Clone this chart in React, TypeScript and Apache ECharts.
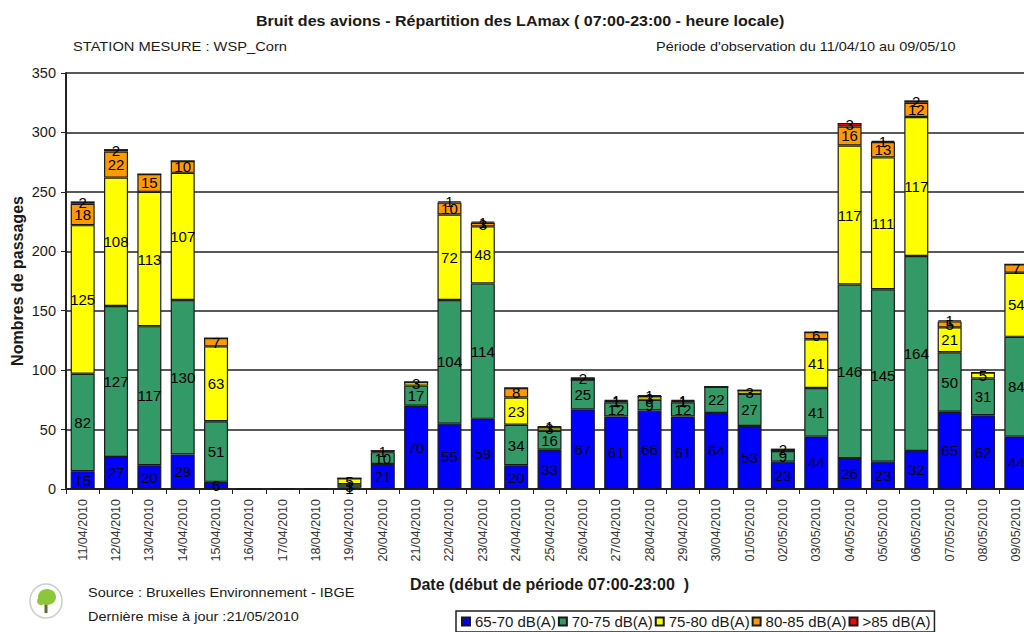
import React, { useEffect, useRef } from "react";
import * as echarts from "echarts";

const dates = ["11/04/2010","12/04/2010","13/04/2010","14/04/2010","15/04/2010","16/04/2010","17/04/2010","18/04/2010","19/04/2010","20/04/2010","21/04/2010","22/04/2010","23/04/2010","24/04/2010","25/04/2010","26/04/2010","27/04/2010","28/04/2010","29/04/2010","30/04/2010","01/05/2010","02/05/2010","03/05/2010","04/05/2010","05/05/2010","06/05/2010","07/05/2010","08/05/2010","09/05/2010"];
const band65 = [15,27,20,29,6,0,0,0,1,21,70,55,59,20,33,67,61,66,61,64,53,23,44,26,23,32,65,62,44];
const band70 = [82,127,117,130,51,0,0,0,3,10,17,104,114,34,16,25,12,9,12,22,27,9,41,146,145,164,50,31,84];
const band75 = [125,108,113,107,63,0,0,0,5,1,3,72,48,23,3,0,1,3,1,0,3,0,41,117,111,117,21,5,54];
const band80 = [18,22,15,10,7,0,0,0,0,0,0,10,3,8,0,0,0,0,0,0,0,0,6,16,13,12,5,0,7];
const band85 = [2,2,0,0,0,0,0,0,0,0,0,1,1,0,1,2,1,1,1,0,0,2,0,3,1,2,1,0,0];

const seriesDefs = [
  { name: "65-70 dB(A)", data: band65, color: "#0000ff" },
  { name: "70-75 dB(A)", data: band70, color: "#339966" },
  { name: "75-80 dB(A)", data: band75, color: "#ffff00" },
  { name: "80-85 dB(A)", data: band80, color: "#ff9900" },
  { name: ">85 dB(A)", data: band85, color: "#ff0000" },
];

const FONT = "'Liberation Sans', Arial, sans-serif";
const INK = "#1a1a1a";

export default function App() {
  const ref = useRef<HTMLDivElement>(null);
  useEffect(() => {
    document.body.style.margin = "0";
    document.body.style.overflow = "hidden";
    const chart = echarts.init(ref.current!, null, { renderer: "svg" });
    const txt = (text: string, x: number, y: number, fontSize: number, scaleX: number, fontWeight = "normal") => ({
      type: "text", x, y, scaleX, silent: true,
      style: { text, font: `${fontWeight} ${fontSize}px ${FONT}`, fill: INK },
    });
    chart.setOption({
      animation: false,
      backgroundColor: "#ffffff",
      textStyle: { fontFamily: FONT },
      grid: { left: 66, top: 73, width: 967, height: 416, containLabel: false, outerBoundsMode: "none" },
      xAxis: {
        type: "category",
        data: dates,
        name: "Date (début de période 07:00-23:00  )",
        nameLocation: "middle",
        nameGap: 87,
        nameTextStyle: { fontSize: 16, fontWeight: "bold", color: INK },
        axisLine: { lineStyle: { color: "#222", width: 2 } },
        axisTick: { show: true, alignWithLabel: false, length: 5, lineStyle: { color: "#222", width: 1 } },
        axisLabel: { rotate: 90, fontSize: 12.5, color: "#333", margin: 10, interval: 0 },
      },
      yAxis: {
        type: "value",
        min: 0,
        max: 350,
        interval: 50,
        name: "Nombres de passages",
        nameLocation: "middle",
        nameGap: 41,
        nameMoveOverlap: false,
        nameTextStyle: { fontSize: 16, fontWeight: "bold", color: INK },
        axisLine: { show: true, lineStyle: { color: "#222", width: 2 } },
        axisTick: { show: true, length: 5, lineStyle: { color: "#222", width: 1 } },
        axisLabel: { fontSize: 14.5, color: INK, margin: 10 },
        splitLine: { show: true, lineStyle: { color: "#222", width: 1.5 } },
      },
      legend: {
        left: 456,
        top: 611,
        padding: [3, 4, 3, 5],
        itemGap: 2,
        itemWidth: 8,
        itemHeight: 8,
        borderColor: "#222",
        borderWidth: 1.5,
        textStyle: { fontSize: 15, color: INK },
        data: seriesDefs.map((s) => ({ name: s.name, icon: "rect" })),
      },
      series: seriesDefs.map((s) => ({
        name: s.name,
        type: "bar",
        stack: "total",
        barWidth: 24,
        data: s.data,
        itemStyle: { color: s.color, borderColor: "#1a1a1a", borderWidth: 1.2 },
        label: {
          show: true,
          position: "inside",
          fontSize: 15,
          color: "#000",
          formatter: (p: any) => (p.value ? String(p.value) : ""),
        },
      })),
      graphic: [
        txt("Bruit des avions - Répartition des LAmax ( 07:00-23:00 - heure locale)", 256, 13, 15, 1.07, "bold"),
        txt("STATION MESURE : WSP_Corn", 73, 40, 13, 1.13),
        txt("Période d'observation du 11/04/10 au 09/05/10", 656, 40, 13, 1.115),
        txt("Source : Bruxelles Environnement - IBGE", 88, 586, 13, 1.115),
        txt("Dernière mise à jour :21/05/2010", 88, 610, 13, 1.115),
        { type: "ellipse", shape: { cx: 46, cy: 601, rx: 16, ry: 17 }, style: { fill: "#fff", stroke: "#c5d2c5", lineWidth: 1.5 } },
        { type: "rect", shape: { x: 44.5, y: 603, width: 3, height: 10 }, style: { fill: "#5f6a3a" } },
        { type: "ellipse", shape: { cx: 47, cy: 597, rx: 9, ry: 8 }, style: { fill: "#8cc63a" } },
        { type: "circle", shape: { cx: 41, cy: 601, r: 4 }, style: { fill: "#8cc63a" } },
      ],
    });
    return () => chart.dispose();
  }, []);
  return <div ref={ref} style={{ width: 1024, height: 632 }} />;
}
